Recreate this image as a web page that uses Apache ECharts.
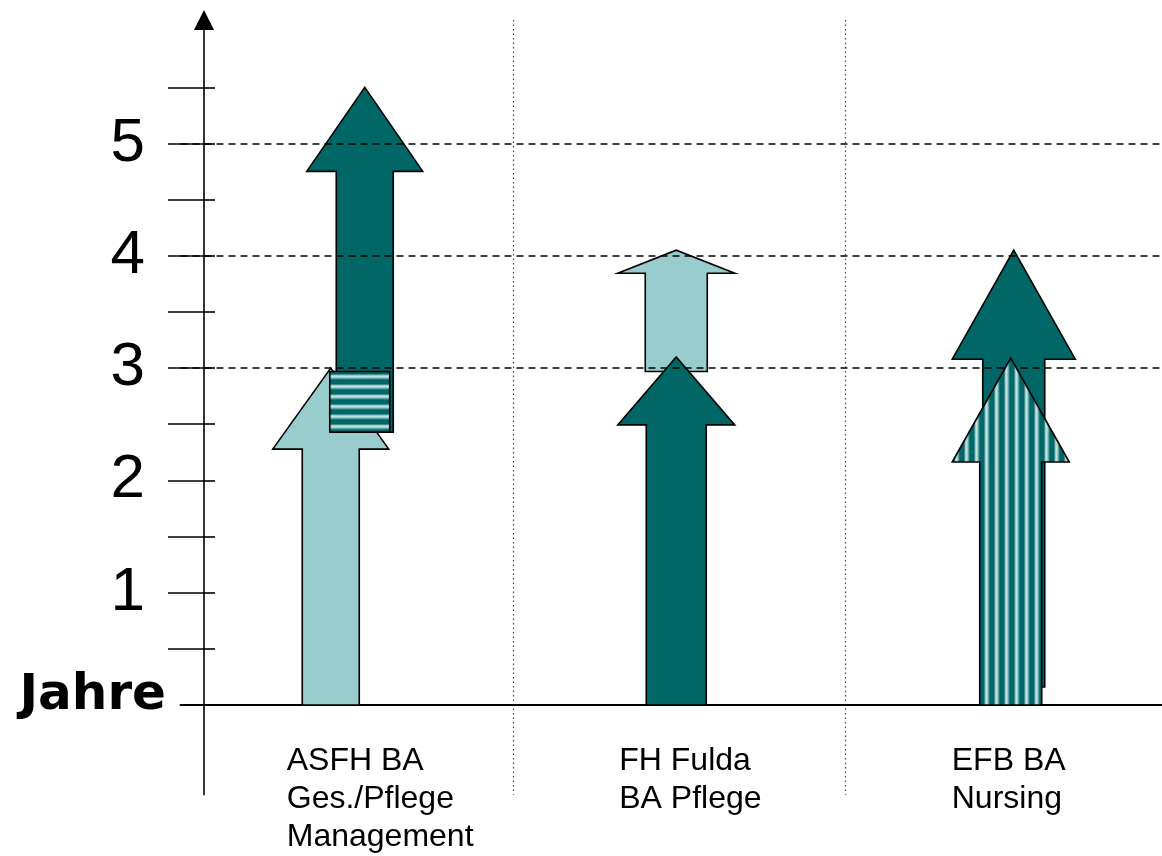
<!DOCTYPE html>
<html>
<head>
<meta charset="utf-8">
<script src="https://cdn.jsdelivr.net/npm/echarts@6/dist/echarts.min.js"></script>
<style>
  html, body { margin: 0; padding: 0; background: #ffffff; }
  #chart { width: 1162px; height: 856px; }
</style>
</head>
<body>
<div id="chart"></div>
<script>
// ---------- data ----------
const categories = ['ASFH BA\nGes./Pflege\nManagement', 'FH Fulda\nBA Pflege', 'EFB BA\nNursing'];
// [category index, from (Jahre), to (Jahre)]
const lightArrows   = [[0, 0, 3.0], [1, 2.97, 4.05]];
const darkArrows    = [[0, 2.43, 5.5], [1, 0, 3.1], [2, 0.16, 4.05]];
const stripedArrows = [[2, 0, 3.09]];
const overlapBlocks = [[0, 2.43, 2.97]];
const yTickValues  = [0.5, 1, 1.5, 2, 2.5, 3, 3.5, 4, 4.5, 5, 5.5];
const yLabelValues = [0, 1, 2, 3, 4, 5];
const yLabelZero   = 'Jahre';
const dashedLevels = [3, 4, 5];

// ---------- styles (shape sizes in px) ----------
const lightShapes   = [{dx: -16, shaft: 57, head: 116, headLen: 81}, {dx: -3, shaft: 62, head: 117, headLen: 23}];
const darkShapes    = [{dx: 18, shaft: 57, head: 116, headLen: 84}, {dx: -3, shaft: 60, head: 117, headLen: 68}, {dx: 2, shaft: 62, head: 123, headLen: 109}];
const stripedShapes = [{dx: -1, shaft: 62, head: 117, headLen: 104}];
const blockShapes   = [{dx: 13, width: 60}];

const DARK = '#006666';
const LIGHT = '#99CCCC';

function stripePattern(horizontal) {
  const cols = ['#006666', '#006666', '#006666', '#006666', '#3d8f8f', '#99cccc', '#c4e2e2', '#99cccc', '#5aa8a8', '#1a7575'];
  const c = document.createElement('canvas');
  c.width = horizontal ? 4 : cols.length;
  c.height = horizontal ? cols.length : 4;
  const ctx = c.getContext('2d');
  cols.forEach((col, i) => {
    ctx.fillStyle = col;
    if (horizontal) ctx.fillRect(0, i, 4, 1); else ctx.fillRect(i, 0, 1, 4);
  });
  return { image: c, repeat: 'repeat' };
}
const hStripes = stripePattern(true);
const vStripes = stripePattern(false);

function arrowRenderer(shapes, fill) {
  return function (params, api) {
    const sh = shapes[params.dataIndex];
    const cat = api.value(0);
    const pBottom = api.coord([cat, api.value(1)]);
    const pTop = api.coord([cat, api.value(2)]);
    const cx = pBottom[0] + sh.dx;
    const y0 = pBottom[1], y1 = pTop[1];
    const yb = y1 + sh.headLen;
    const s = sh.shaft / 2, h = sh.head / 2;
    return {
      type: 'polygon',
      shape: { points: [[cx - s, y0], [cx - s, yb], [cx - h, yb], [cx, y1], [cx + h, yb], [cx + s, yb], [cx + s, y0]] },
      style: { fill: fill, stroke: '#000', lineWidth: 1.6, lineJoin: 'miter' }
    };
  };
}

function blockRenderer(shapes, fill) {
  return function (params, api) {
    const sh = shapes[params.dataIndex];
    const cat = api.value(0);
    const pBottom = api.coord([cat, api.value(1)]);
    const pTop = api.coord([cat, api.value(2)]);
    const cx = pBottom[0] + sh.dx;
    return {
      type: 'rect',
      shape: { x: cx - sh.width / 2, y: pTop[1], width: sh.width, height: pBottom[1] - pTop[1] },
      style: { fill: fill, stroke: '#000', lineWidth: 1.6 }
    };
  };
}

const chart = echarts.init(document.getElementById('chart'), null, { renderer: 'canvas' });
chart.setOption({
  animation: false,
  backgroundColor: '#ffffff',
  grid: { left: 180.5, right: -16, top: 20, bottom: 61.2, outerBoundsMode: 'none', containLabel: false },
  xAxis: {
    type: 'category',
    data: categories,
    boundaryGap: true,
    axisLine: { show: true, onZero: true, lineStyle: { color: '#000', width: 2 } },
    axisTick: { show: false },
    axisLabel: {
      margin: -53,
      align: 'center',
      verticalAlign: 'top',
      width: 120,
      overflow: 'none',
      formatter: v => v.split('\n').map(l => '{a|' + l + '}').join('\n'),
      rich: { a: { align: 'left', fontSize: 32, lineHeight: 38, color: '#000', fontFamily: 'Liberation Sans, Arial, sans-serif' } }
    },
    splitLine: { show: true, showMinLine: false, showMaxLine: false, lineStyle: { color: '#444', width: 1.2, type: [1.5, 3] } }
  },
  yAxis: [{
    type: 'value',
    position: 'left',
    offset: -23.5,
    min: -0.8,
    max: 6.1,
    axisLine: { show: true, symbol: ['none', 'triangle'], symbolSize: [20, 20], symbolOffset: [0, 0], lineStyle: { color: '#000', width: 1.6 } },
    axisTick: { show: true, inside: false, length: 36, customValues: yTickValues, lineStyle: { color: '#000', width: 1.6 } },
    axisLabel: {
      margin: 38,
      customValues: yLabelValues,
      formatter: v => Number(v) === 0 ? '{j|' + yLabelZero + '}' : '{n|' + v + '}',
      rich: {
        n: { fontSize: 62, color: '#000', fontFamily: 'Liberation Sans, Arial, sans-serif', padding: [0, 21, 0, 0] },
        j: { fontSize: 50, fontWeight: 'bold', color: '#000', fontFamily: 'DejaVu Sans, sans-serif', padding: [0, 0, 17, 0] }
      }
    },
    splitLine: { show: false }
  }, {
    type: 'value',
    position: 'left',
    offset: -23.5,
    min: -0.8,
    max: 6.1,
    axisLine: { show: false },
    axisTick: { show: true, inside: true, length: 11, customValues: yTickValues, lineStyle: { color: '#000', width: 1.6 } },
    axisLabel: { show: false },
    splitLine: { show: false }
  }],
  series: [
    {
      type: 'line', data: [], z: 1, silent: true,
      markLine: {
        silent: true, symbol: ['none', 'none'], label: { show: false },
        lineStyle: { color: '#000', width: 1.6, type: [7, 5] },
        data: dashedLevels.map(v => ({ yAxis: v }))
      }
    },
    { type: 'custom', z: 3, silent: true, data: lightArrows, encode: { x: 0, y: [1, 2] }, renderItem: arrowRenderer(lightShapes, LIGHT) },
    { type: 'custom', z: 4, silent: true, data: darkArrows, encode: { x: 0, y: [1, 2] }, renderItem: arrowRenderer(darkShapes, DARK) },
    { type: 'custom', z: 5, silent: true, data: stripedArrows, encode: { x: 0, y: [1, 2] }, renderItem: arrowRenderer(stripedShapes, vStripes) },
    { type: 'custom', z: 6, silent: true, data: overlapBlocks, encode: { x: 0, y: [1, 2] }, renderItem: blockRenderer(blockShapes, hStripes) }
  ]
});
</script>
</body>
</html>
